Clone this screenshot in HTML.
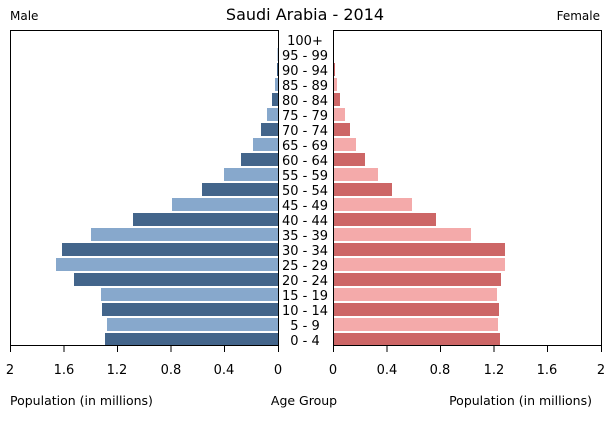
<!DOCTYPE html>
<html><head><meta charset="utf-8"><style>body{margin:0;background:#fff}svg{display:block}text{font-family:"DejaVu Sans","Liberation Sans",sans-serif;fill:#000}</style></head><body>
<svg width="610" height="425" xmlns="http://www.w3.org/2000/svg">
<text x="305" y="20" font-size="16" text-anchor="middle">Saudi Arabia - 2014</text>
<text x="10" y="20" font-size="12">Male</text>
<text x="600" y="20" font-size="12" text-anchor="end">Female</text>
<g id="bars"></g>
<rect x="10.5" y="30.5" width="268" height="315" fill="none" stroke="#000"/>
<rect x="333.5" y="30.5" width="268" height="315" fill="none" stroke="#000"/>
<g stroke="#000">
<line x1="10.5" y1="345" x2="10.5" y2="352"/><line x1="64" y1="345" x2="64" y2="352"/><line x1="117.5" y1="345" x2="117.5" y2="352"/><line x1="171" y1="345" x2="171" y2="352"/><line x1="224.5" y1="345" x2="224.5" y2="352"/><line x1="278.5" y1="345" x2="278.5" y2="352"/>
<line x1="333.5" y1="345" x2="333.5" y2="352"/><line x1="387" y1="345" x2="387" y2="352"/><line x1="440.5" y1="345" x2="440.5" y2="352"/><line x1="494" y1="345" x2="494" y2="352"/><line x1="547.5" y1="345" x2="547.5" y2="352"/><line x1="601.5" y1="345" x2="601.5" y2="352"/>
</g>
<g font-size="13" text-anchor="middle">
<text x="10" y="374">2</text><text x="64" y="374">1.6</text><text x="117" y="374">1.2</text><text x="171" y="374">0.8</text><text x="224" y="374">0.4</text><text x="278" y="374">0</text>
<text x="333" y="374">0</text><text x="387" y="374">0.4</text><text x="440" y="374">0.8</text><text x="494" y="374">1.2</text><text x="547" y="374">1.6</text><text x="601" y="374">2</text>
</g>
<g font-size="12.5">
<text x="10" y="405">Population (in millions)</text>
<text x="304" y="405" text-anchor="middle">Age Group</text>
<text x="592" y="405" text-anchor="end">Population (in millions)</text>
</g>
<g id="labels" font-size="13" text-anchor="middle"></g>
</svg>
<script>
var ages=["100+","95 - 99","90 - 94","85 - 89","80 - 84","75 - 79","70 - 74","65 - 69","60 - 64","55 - 59","50 - 54","45 - 49","40 - 44","35 - 39","30 - 34","25 - 29","20 - 24","15 - 19","10 - 14","5 - 9","0 - 4"];
var mL=[278,277.5,277,275,272,267,261,253,241,224,202,172,133,91,62,56,74,101,102,107,105];
var fR=[333.5,334,335,337,340,345,350,356,365,378,392,412,436,471,505,505,501,497,499,498,500];
var ns="http://www.w3.org/2000/svg",b=document.getElementById("bars"),l=document.getElementById("labels");
for(var i=0;i<21;i++){var dark=(20-i)%2==0,y=33+15*i;
var r=document.createElementNS(ns,"rect");r.setAttribute("x",mL[i]);r.setAttribute("y",y);r.setAttribute("width",278-mL[i]);r.setAttribute("height",13);r.setAttribute("fill",dark?"#43658b":"#87a8cc");b.appendChild(r);
r=document.createElementNS(ns,"rect");r.setAttribute("x",333);r.setAttribute("y",y);r.setAttribute("width",fR[i]-333);r.setAttribute("height",13);r.setAttribute("fill",dark?"#cd6666":"#f4aaaa");b.appendChild(r);
var t=document.createElementNS(ns,"text");t.setAttribute("x",305);t.setAttribute("y",y+12);t.textContent=ages[i];l.appendChild(t);}
</script>
</body></html>
